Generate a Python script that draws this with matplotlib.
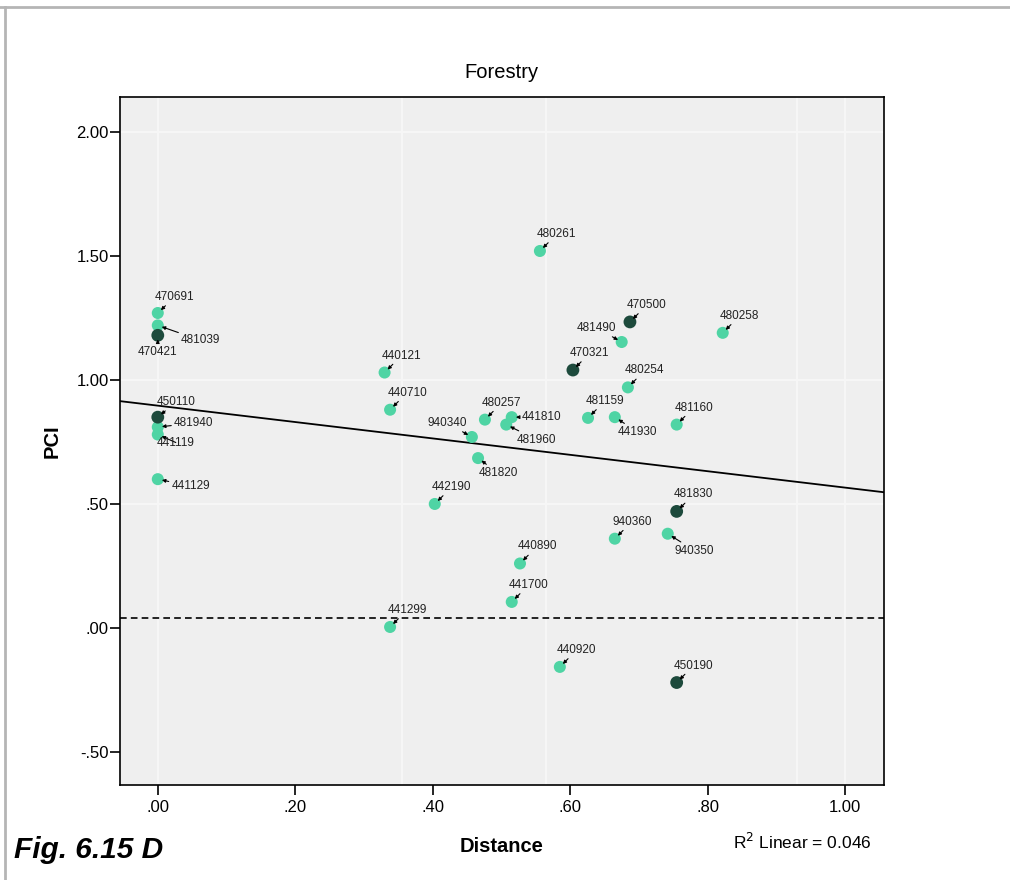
import numpy as np
import matplotlib
matplotlib.use("Agg")
import matplotlib.pyplot as plt
from matplotlib.lines import Line2D

plt.rcParams['font.family'] = ['Liberation Sans', 'DejaVu Sans']

# station codes, distance and PCI for each site
codes = ["470691", "481039", "470421", "450110", "481940", "441119", "441129",
         "440121", "440710", "940340", "480257", "441810", "481960", "481820",
         "442190", "480261", "470500", "481490", "470321", "480254", "481159",
         "441930", "481160", "480258", "481830", "940360", "940350", "450190",
         "440890", "441700", "441299", "440920"]
distance = [0.00, 0.00, 0.00, 0.00, 0.00, 0.00, 0.00,
            0.33, 0.338, 0.457, 0.476, 0.515, 0.507, 0.466,
            0.403, 0.556, 0.687, 0.675, 0.604, 0.684, 0.626,
            0.665, 0.755, 0.822, 0.755, 0.665, 0.742, 0.755,
            0.527, 0.515, 0.338, 0.585]
pci = [1.27, 1.22, 1.18, 0.85, 0.81, 0.78, 0.60,
       1.03, 0.88, 0.77, 0.84, 0.85, 0.82, 0.685,
       0.50, 1.52, 1.234, 1.153, 1.04, 0.97, 0.847,
       0.85, 0.82, 1.19, 0.47, 0.36, 0.38, -0.22,
       0.26, 0.105, 0.004, -0.157]
# 1 = highlighted (dark) site
dark = [0, 0, 1, 1, 0, 0, 0,
        0, 0, 0, 0, 0, 0, 0,
        0, 0, 1, 0, 1, 0, 0,
        0, 0, 0, 1, 0, 0, 1,
        0, 0, 0, 0]
r2_linear = 0.046
threshold = 0.04

# label placement in pixels relative to the marker
default_off = (17, 17)
label_off = {
    "470691": (17, 16), "481039": (43, -15), "470421": (0, -17),
    "450110": (18, 15), "481940": (36, 4), "441119": (18, -8),
    "441129": (33, -7), "940340": (-25, 14), "441810": (30, 0),
    "481960": (30, -15), "481820": (20, -15), "481490": (-25, 14),
    "441930": (23, -15), "940350": (27, -17),
}

x = np.array(distance)
y = np.array(pci)
is_dark = np.array(dark, dtype=bool)

fig = plt.figure(figsize=(10.10, 8.80), dpi=100)
fig.patch.set_facecolor("white")
ax = fig.add_axes([0.1188, 0.108, 0.756, 0.7818])
ax.set_facecolor("#efefef")

ax.set_xlim(-0.055, 1.056)
ax.set_ylim(-0.633, 2.141)

# faint background rules
for gx in [0.0, 0.355, 0.565, 0.93, 1.0]:
    ax.axvline(gx, color="#f6f6f6", lw=1.6, zorder=0)
for gy in [2.0, 1.0, 0.5]:
    ax.axhline(gy, color="#f6f6f6", lw=1.6, zorder=0)

# fit line over the whole x range
slope, icept = np.polyfit(x, y, 1)
xs = np.array(ax.get_xlim())
ax.plot(xs, icept + slope * xs, color="black", lw=1.3, zorder=2)
ax.axhline(threshold, color="black", lw=1.2, ls=(0, (4, 2.5)), zorder=2)

ax.scatter(x[~is_dark], y[~is_dark], s=75, color="#4fd4a4", edgecolors="none", zorder=3)
ax.scatter(x[is_dark], y[is_dark], s=85, color="#1d4a3c", edgecolors="none", zorder=4)

for c, xv, yv in zip(codes, distance, pci):
    dx, dy = label_off.get(c, default_off)
    ax.annotate(c, xy=(xv, yv), xytext=(dx, dy), textcoords="offset pixels",
                ha="center", va="center", fontsize=8.5, color="#222222", zorder=5,
                arrowprops=dict(arrowstyle="-|>", color="black", lw=0.8,
                                mutation_scale=5, shrinkA=0, shrinkB=3))

ax.set_xticks([0.0, 0.2, 0.4, 0.6, 0.8, 1.0])
ax.set_xticklabels([".00", ".20", ".40", ".60", ".80", "1.00"])
ax.set_yticks([-0.5, 0.0, 0.5, 1.0, 1.5, 2.0])
ax.set_yticklabels(["-.50", ".00", ".50", "1.00", "1.50", "2.00"])
ax.tick_params(direction="out", length=7, width=1.2, labelsize=12, colors="black", pad=1)
ax.tick_params(axis="x", pad=4)
for sp in ax.spines.values():
    sp.set_linewidth(1.2)
    sp.set_color("black")

ax.set_title("Forestry", fontsize=14.5, pad=14)
ax.set_xlabel("Distance", fontsize=14.5, fontweight="bold", labelpad=16)
ax.set_ylabel("PCI", fontsize=14.5, fontweight="bold", labelpad=11)

fig.text(0.8634, 0.043, "R$^2$ Linear = %.3f" % r2_linear, ha="right", va="center", fontsize=12.5)
fig.text(0.014, 0.034, "Fig. 6.15 D", ha="left", va="center", fontsize=21.5,
         fontweight="bold", fontstyle="italic")

# page frame lines at top and left
fig.add_artist(Line2D([0, 1], [0.992, 0.992], transform=fig.transFigure, color="#b5b5b5", lw=2))
fig.add_artist(Line2D([0.005, 0.005], [0, 0.992], transform=fig.transFigure, color="#b5b5b5", lw=2))

fig.savefig("out.png", dpi=100)
